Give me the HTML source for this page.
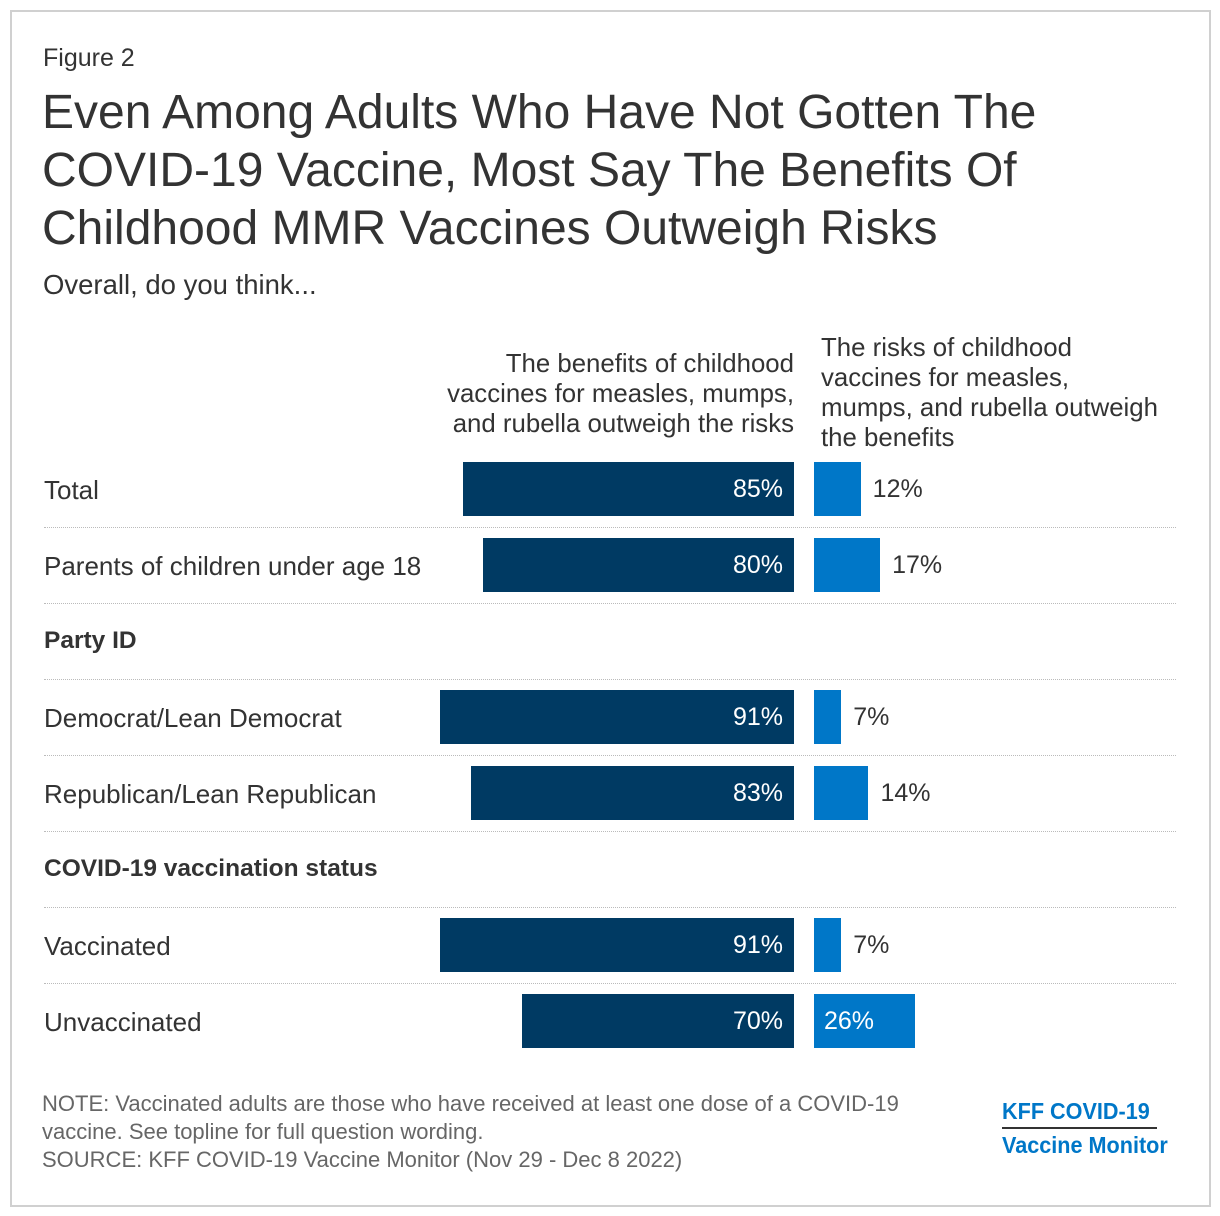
<!DOCTYPE html>
<html><head><meta charset="utf-8"><style>
body{margin:0;width:1220px;height:1216px;background:#fff;font-family:"Liberation Sans",Arial,sans-serif;color:#333;position:relative;overflow:hidden}
.a{position:absolute;white-space:nowrap}
#frame{position:absolute;left:10px;top:10px;width:1197px;height:1193px;border:2px solid #d0d0d0}
.row{font-size:26px;color:#333}
.sep{position:absolute;left:44px;width:1132px;border-top:1px dotted #bbb;height:0}
.val{font-size:25px}
</style></head><body>
<div id="frame"></div>
<div class="a" style="left:43px;top:44px;font-size:25px">Figure 2</div>
<div class="a" style="left:42px;top:84px;font-size:48px;line-height:58px;color:#333">Even Among Adults Who Have Not Gotten The<br>COVID-19 Vaccine, Most Say The Benefits Of<br>Childhood MMR Vaccines Outweigh Risks</div>
<div class="a" style="left:43px;top:269px;font-size:27.5px">Overall, do you think...</div>
<div class="a" style="right:426px;top:349px;font-size:25.8px;line-height:30px;text-align:right">The benefits of childhood<br>vaccines for measles, mumps,<br>and rubella outweigh the risks</div>
<div class="a" style="left:821px;top:333px;font-size:25.8px;line-height:30px">The risks of childhood<br>vaccines for measles,<br>mumps, and rubella outweigh<br>the benefits</div>
<div id="chart"></div>
<div class="a" style="left:42px;top:1090px;font-size:22px;line-height:28px;color:#666">NOTE: Vaccinated adults are those who have received at least one dose of a COVID-19<br>vaccine. See topline for full question wording.<br>SOURCE: KFF COVID-19 Vaccine Monitor (Nov 29 - Dec 8 2022)</div>
<div class="a" style="left:1002px;top:1097px;font-size:23px;font-weight:bold;color:#0077c8;line-height:28px;transform:scaleX(0.94);transform-origin:left">KFF COVID-19</div>
<div class="a" style="left:1002px;top:1127px;width:155px;border-top:2px solid #333"></div>
<div class="a" style="left:1002px;top:1131px;font-size:23px;font-weight:bold;color:#0077c8;line-height:28px;transform:scaleX(0.94);transform-origin:left">Vaccine Monitor</div>
<script>
const categories=["Total","Parents of children under age 18","Party ID","Democrat/Lean Democrat","Republican/Lean Republican","COVID-19 vaccination status","Vaccinated","Unvaccinated"];
const benefits=[85,80,null,91,83,null,91,70];
const risks=[12,17,null,7,14,null,7,26];
const c=document.getElementById('chart');
const scale=3.89, zeroL=794, zeroR=814, top0=451, rowH=76;
function x(v){return v*scale;}
categories.forEach((cat,i)=>{
  const cy=top0+i*rowH+38;
  const lab=document.createElement('div');
  lab.className='a row';
  lab.style.left='44px';lab.style.top=(cy-14)+'px';
  lab.textContent=cat;
  if(benefits[i]===null){lab.style.fontWeight='bold';lab.style.fontSize='24.5px';}
  
  
  c.appendChild(lab);
  if(i<categories.length-1){
    const s=document.createElement('div');s.className='sep';s.style.top=(top0+(i+1)*rowH)+'px';
    
    
    c.appendChild(s);
  }
  if(benefits[i]===null)return;
  const w=x(benefits[i]);
  const b=document.createElement('div');b.className='a';
  b.style.cssText=`left:${zeroL-w}px;top:${cy-27}px;width:${w}px;height:54px;background:#003a63`;
  
  
  c.appendChild(b);
  const bl=document.createElement('div');bl.className='a val';
  bl.style.cssText=`right:${1220-zeroL+11}px;top:${cy-14}px;color:#fff`;
  bl.textContent=benefits[i]+'%';
  
  
  c.appendChild(bl);
  const rw=x(risks[i]);
  const r=document.createElement('div');r.className='a';
  r.style.cssText=`left:${zeroR}px;top:${cy-27}px;width:${rw}px;height:54px;background:#0077c8`;
  
  
  c.appendChild(r);
  const rl=document.createElement('div');rl.className='a val';
  const inside=rw>80;
  rl.style.cssText=`left:${inside?zeroR+10:zeroR+rw+12}px;top:${cy-14}px;color:${inside?'#fff':'#333'}`;
  rl.textContent=risks[i]+'%';
  
  
  c.appendChild(rl);
});
</script>
</body></html>
